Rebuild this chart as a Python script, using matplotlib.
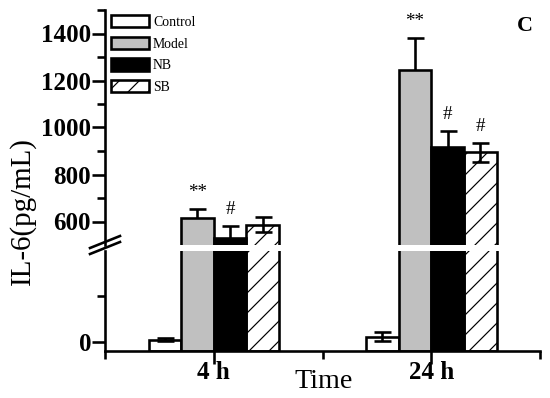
import matplotlib
matplotlib.use("Agg")
import matplotlib.pyplot as plt
import numpy as np
from matplotlib.patches import Patch
from matplotlib.lines import Line2D

DPI = 120


def pt(px):
    return px * 72.0 / DPI


plt.rcParams['font.family'] = ['Liberation Serif', 'DejaVu Serif']
plt.rcParams['hatch.linewidth'] = pt(1.2)

groups = ['4 h', '24 h']
series = ['Control', 'Model', 'NB', 'SB']
control = [10, 23]
control_err = [5, 20]
model = [616, 1243]
model_err = [38, 137]
nb = [529, 919]
nb_err = [50, 64]
sb = [587, 895]
sb_err = [31, 40]
values = [control, model, nb, sb]
errors = [control_err, model_err, nb_err, sb_err]
marks = [['', '**', '#', ''], ['', '**', '#', '#']]  # per group, per series

faces = ['none', '#c0c0c0', 'black', 'none']
hatches = [None, None, None, '//']

W, H = 550, 398
fig = plt.figure(figsize=(W / DPI, H / DPI), dpi=DPI)
left = 105 / W
width = 435 / W
ax_up = fig.add_axes([left, (H - 245) / H, width, 235 / H])
ax_lo = fig.add_axes([left, (H - 351) / H, width, 100 / H])

x = np.arange(1, len(groups) + 1)
bw = 0.15
lo_bottom = -40
lw = pt(2.6)

for ax in (ax_up, ax_lo):
    for i, (vals, errs) in enumerate(zip(values, errors)):
        pos = x + (i - 1.5) * bw
        heights = np.array(vals) - lo_bottom
        ax.errorbar(pos, vals, yerr=errs, fmt='none', ecolor='black',
                    elinewidth=lw, capsize=pt(8.5), capthick=lw, zorder=1)
        ax.bar(pos, heights, bw, bottom=lo_bottom, facecolor=faces[i],
               edgecolor='black', linewidth=lw, hatch=hatches[i], zorder=2)
    ax.set_xlim(0.5, 2.5)
    for s in ['right', 'top']:
        ax.spines[s].set_visible(False)
    ax.spines['left'].set_linewidth(lw)
    ax.spines['bottom'].set_linewidth(lw)

ax_up.set_ylim(500, 1500)
ax_lo.set_ylim(lo_bottom, 400)
ax_up.spines['bottom'].set_visible(False)
ax_up.tick_params(axis='x', which='both', bottom=False, labelbottom=False)

ax_up.set_yticks([600, 800, 1000, 1200, 1400])
ax_up.set_yticks([700, 900, 1100, 1300, 1500], minor=True)
ax_lo.set_yticks([0])
ax_lo.set_yticks([200], minor=True)
ax_lo.set_xticks(x)
ax_lo.set_xticklabels(groups)
ax_lo.set_xticks([0.5, 1.5, 2.5], minor=True)

for ax in (ax_up, ax_lo):
    ax.tick_params(axis='both', which='major', direction='out', length=pt(13),
                   width=lw, labelsize=pt(25), pad=pt(1))
    ax.tick_params(axis='both', which='minor', direction='out', length=pt(8),
                   width=lw)
    for lab in ax.get_yticklabels() + ax.get_xticklabels():
        lab.set_fontweight('bold')
ax_lo.tick_params(axis='x', which='major', pad=pt(-3))

fig.text(324 / W, 1 - 382 / H, 'Time', fontsize=pt(28), ha='center',
         va='center')
fig.text(22 / W, 1 - 211 / H, 'IL-6(pg/mL)', rotation=90, fontsize=pt(29),
         ha='center', va='center')

# significance marks
for g in range(len(groups)):
    for i in range(len(series)):
        t = marks[g][i]
        if not t:
            continue
        pos = x[g] + (i - 1.5) * bw
        top = values[i][g] + errors[i][g]
        ax_up.text(pos, top + 35, t, ha='center', va='bottom',
                   fontsize=pt(19))

fig.text(525 / W, 1 - 26 / H, 'C', fontsize=pt(22), fontweight='bold',
         ha='center', va='center')

# legend
handles = [Patch(facecolor='white' if f == 'none' else f, edgecolor='black',
                 linewidth=lw, hatch=h) for f, h in zip(faces, hatches)]
fs_px = 13.8
leg = fig.legend(handles, series, loc='upper left',
                 bbox_to_anchor=(111 / W, 1 - 15 / H), frameon=False,
                 fontsize=pt(fs_px), handlelength=38 / fs_px,
                 handleheight=14 / fs_px, handletextpad=0.3,
                 labelspacing=0.55, borderpad=0, borderaxespad=0)

# axis break marks
for dy in (0, 6):
    fig.add_artist(Line2D([90 / W, 120 / W],
                          [1 - (254 - dy) / H, 1 - (242 - dy) / H],
                          color='black', lw=lw))

fig.savefig('out.png', dpi=DPI)
